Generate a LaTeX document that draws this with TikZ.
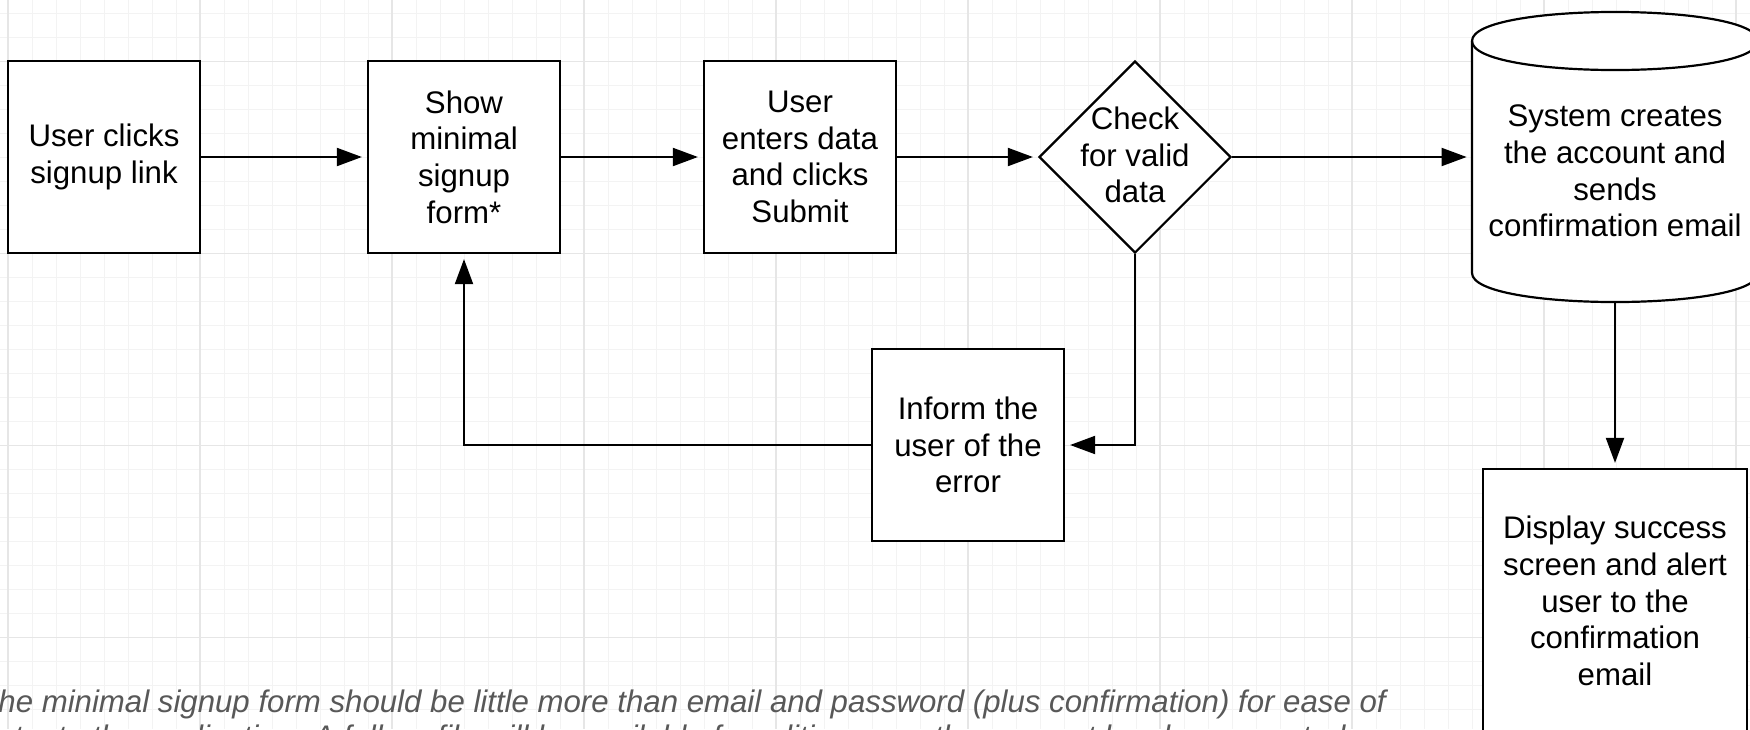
\documentclass[tikz,border=0pt]{standalone}
\usepackage{fontspec}
\setmainfont{Liberation Sans}
\usetikzlibrary{shapes.geometric,arrows.meta}
\definecolor{gridminor}{RGB}{243,243,243}
\definecolor{gridmajor}{RGB}{230,230,230}
\definecolor{notegray}{RGB}{88,88,88}
\newcommand{\mfs}{\fontsize{15.6}{18.35}\selectfont}
\tikzset{
  box/.style={draw, line width=1.1pt, fill=white, minimum width=96pt, minimum height=96pt, inner sep=0pt, align=center, font=\mfs},
  txt/.style={align=center, inner sep=0pt, font=\mfs},
  arr/.style={-{Triangle[length=12.5pt,width=9pt]}, line width=1pt, shorten >=2.5pt},
  note/.style={anchor=base west, inner sep=0pt, font=\mfs\itshape, text=notegray}
}
\begin{document}
\begin{tikzpicture}[x=0.5pt,y=-0.5pt]
\useasboundingbox (0,0) rectangle (1750,729);
\fill[white] (0,0) rectangle (1750,729);
% grid
\foreach \i in {0,...,73} {
  \draw[gridminor, line width=0.5pt] ({8+24*\i},0) -- ({8+24*\i},729);
}
\foreach \j in {0,...,30} {
  \draw[gridminor, line width=0.5pt] (0,{13.33+24*\j}) -- (1750,{13.33+24*\j});
}
\foreach \i in {0,...,9} {
  \draw[gridmajor, line width=0.8pt] ({8+192*\i},0) -- ({8+192*\i},729);
}
\foreach \j in {0,...,3} {
  \draw[gridmajor, line width=0.8pt] (0,{61.33+192*\j}) -- (1750,{61.33+192*\j});
}
% nodes
\node[box] (b1) at (104,157) {User clicks\\signup link};
\node[box] (b2) at (464,157) {Show\\minimal\\signup\\form*};
\node[box] (b3) at (800,157) {User\\enters data\\and clicks\\Submit};
\node[diamond, draw, line width=1.1pt, fill=white, minimum width=96pt, minimum height=96pt, inner sep=0pt] (dia) at (1135,157) {};
\node[txt] (diat) at (1135,155) {Check\\for valid\\data};
\node[box] (inf) at (968,445) {Inform the\\user of the\\error};
% cylinder
\node[minimum width=143pt, minimum height=145pt, inner sep=0pt] (cyl) at (1615,157) {};
\draw[line width=1.1pt, fill=white] (1472,41) -- (1472,273) .. controls (1472,311.7) and (1758,311.7) .. (1758,273) -- (1758,41) .. controls (1758,2.3) and (1472,2.3) .. (1472,41) -- cycle;
\draw[line width=1.1pt] (1472,41) .. controls (1472,79.7) and (1758,79.7) .. (1758,41);
\node[txt] (cylt) at (1615,171) {System creates\\the account and\\sends\\confirmation email};
\node[box, minimum width=132pt, minimum height=132pt] (disp) at (1615,601) {Display success\\screen and alert\\user to the\\confirmation\\email};
% connectors
\draw[arr] (b1) -- (b2);
\draw[arr] (b2) -- (b3);
\draw[arr] (b3) -- (dia);
\draw[arr] (dia) -- (cyl);
\draw[arr] (cyl.south) -- (disp.north);
\draw[arr] (dia.south) |- (inf.east);
\draw[arr] (inf.west) -| (b2.south);
% note
\node[note] (note1) at (-21,712) {The minimal signup form should be little more than email and password (plus confirmation) for ease of};
\node[note] (note2) at (-21,747) {entry to the application. A full profile will be available for editing once the account has been created};
\end{tikzpicture}
\end{document}
